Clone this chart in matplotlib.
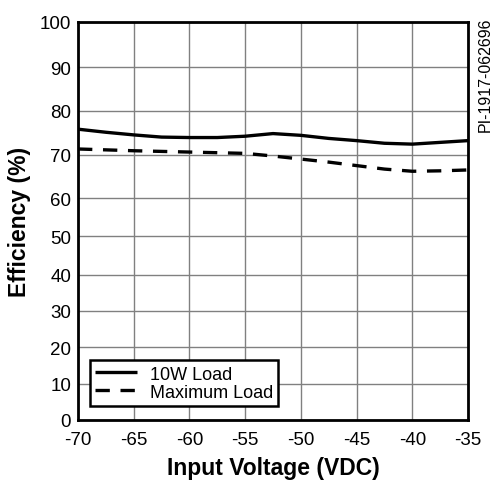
import matplotlib
matplotlib.use("Agg")
import matplotlib.pyplot as plt
import numpy as np

plt.rcParams['font.family'] = ['Liberation Sans', 'DejaVu Sans']

# Data
volts_10w = [-70, -67.5, -65, -62.5, -60, -57.5, -55, -52.5, -50, -47.5, -45, -42.5, -40, -37.5, -35]
eff_10w = [75.8, 75.1, 74.5, 74.0, 73.9, 73.9, 74.2, 74.8, 74.4, 73.7, 73.2, 72.6, 72.4, 72.8, 73.2]

volts_max = [-70, -65, -60, -55, -52.5, -50, -47.5, -45, -42.5, -40, -37.5, -35]
eff_max = [71.3, 70.9, 70.6, 70.3, 69.7, 69.0, 68.3, 67.5, 66.7, 66.2, 66.3, 66.5]

x_ticks = [-70, -65, -60, -55, -50, -45, -40, -35]
y_ticks = [0, 10, 20, 30, 40, 50, 60, 70, 80, 90, 100]

# The scanned original has an uneven vertical scale; gridline pixel rows
W, H = 491, 481
Y_TOP, Y_BOT = 22.7, 421.0
grid_rows = [421.0, 385.0, 348.3, 311.7, 276.0, 237.3, 199.3, 155.7, 111.7, 68.3, 22.7]
grid_frac = [(Y_BOT - r) / (Y_BOT - Y_TOP) * 100 for r in grid_rows]


def fwd(v):
    return np.interp(v, y_ticks, grid_frac, left=-1e9, right=1e9)


def inv(v):
    return np.interp(v, grid_frac, y_ticks)


fig = plt.figure(figsize=(W / 100, H / 100), dpi=100)
ax = fig.add_axes([78 / W, 1 - Y_BOT / H, (468 - 78) / W, (Y_BOT - Y_TOP) / H])
ax.set_yscale('function', functions=(lambda v: np.interp(v, y_ticks, grid_frac), inv))

ax.plot(volts_10w, eff_10w, color='black', lw=2.4, solid_capstyle='butt',
        label='10W Load', zorder=3)
ax.plot(volts_max, eff_max, color='black', lw=2.4, dashes=(4.3, 3.2),
        label='Maximum Load', zorder=3)

ax.set_xlim(-70, -35)
ax.set_ylim(0, 100)
ax.set_xticks(x_ticks)
ax.set_yticks(y_ticks)
ax.set_xticklabels([str(v) for v in x_ticks])
ax.set_yticklabels([str(v) for v in y_ticks])
ax.yaxis.set_minor_locator(matplotlib.ticker.NullLocator())
ax.tick_params(axis='both', length=0, labelsize=13.5)
ax.tick_params(axis='x', pad=8)
ax.tick_params(axis='y', pad=5)
ax.grid(True, color='#808080', lw=1.0)
ax.set_axisbelow(True)
for s in ax.spines.values():
    s.set_linewidth(2.0)
    s.set_color('black')

ax.set_xlabel('Input Voltage (VDC)', fontsize=16.5, fontweight='bold', labelpad=6)
ax.set_ylabel('Efficiency (%)', fontsize=16.5, fontweight='bold', labelpad=6)

leg = ax.legend(loc='lower left', bbox_to_anchor=(12 / 390, 14 / (Y_BOT - Y_TOP)),
                borderaxespad=0, fontsize=13, frameon=True, fancybox=False,
                handlelength=2.3, handletextpad=0.7, labelspacing=0.05,
                borderpad=0.3)
leg.get_frame().set_edgecolor('black')
leg.get_frame().set_linewidth(1.8)
leg.get_frame().set_alpha(1)

fig.text(485 / W, 1 - 18 / H, 'PI-1917-062696', rotation=90, ha='center', va='top',
         fontsize=11.5)

fig.savefig('out.png', dpi=100)
